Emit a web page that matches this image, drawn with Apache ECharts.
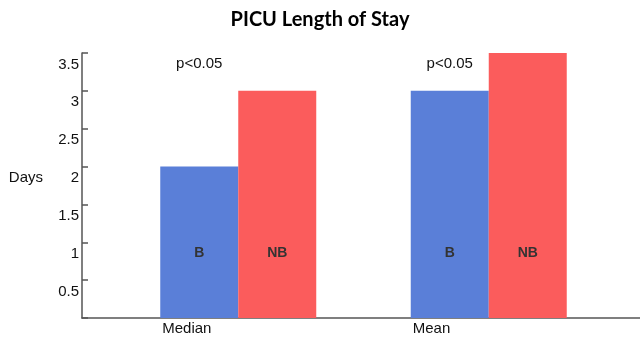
<!DOCTYPE html>
<html><head><meta charset="utf-8">
<script src="https://cdn.jsdelivr.net/npm/echarts@6/dist/echarts.min.js"></script>
<style>html,body{margin:0;padding:0;background:#fff}#c{width:640px;height:338px}</style>
</head><body><div id="c"></div>
<script>
const categories = ['Median', 'Mean'];
const seriesNames = ['B', 'NB'];
const valuesB = [2.0, 3.0];
const valuesNB = [3.0, 3.5];
const pLabels = ['p<0.05', 'p<0.05'];
const pLabelLevel = 3.36;
const yTicks = [0, 0.5, 1, 1.5, 2, 2.5, 3, 3.5];

const chart = echarts.init(document.getElementById('c'));
const axisColor = '#555';
const yMin = yTicks[0], yMax = yTicks[yTicks.length - 1];
const txt = {fontFamily: 'Liberation Sans', fontSize: 15, color: '#111'};
chart.setOption({
  animation: false,
  title: {
    text: 'PICU Length of Stay', left: 'center', top: 5,
    textStyle: {fontFamily: 'Lato', fontWeight: 'bold', fontSize: 20, color: '#000'}
  },
  grid: [
    {left: 82, right: 0, top: 53, bottom: 20},
    {left: 113, width: 501, top: 53, bottom: 20}
  ],
  xAxis: [
    {gridIndex: 0, type: 'category', data: categories, axisLine: {lineStyle: {color: axisColor, width: 1.5}},
     axisTick: {show: false}, axisLabel: {show: false}},
    {gridIndex: 1, type: 'category', data: categories,
     axisLine: {show: false}, axisTick: {show: false},
     axisLabel: {margin: 3, formatter: v => '{a|' + v + '}',
       rich: {a: Object.assign({width: 156, align: 'left', padding: [0, 0, 0, 4]}, txt)}}}
  ],
  yAxis: [
    {gridIndex: 0, type: 'value', min: yMin, max: yMax, interval: 0.5,
     name: 'Days', nameLocation: 'middle', nameRotate: 0, nameGap: 39,
     nameTextStyle: Object.assign({verticalAlign: 'bottom'}, txt),
     axisLine: {show: true, lineStyle: {color: axisColor, width: 1.5}},
     axisTick: {show: true, inside: true, length: 6, lineStyle: {color: axisColor, width: 1.5}},
     splitLine: {show: false},
     axisLabel: Object.assign({margin: 3, verticalAlign: 'top', padding: [4, 0, 0, 0],
       formatter: v => v === 0 ? '' : String(v)}, txt)},
    {gridIndex: 0, type: 'value', min: yMin, max: yMax, interval: 0.5,
     axisLine: {show: false},
     axisTick: {show: true, inside: false, length: 10, lineStyle: {color: axisColor, width: 1.5}},
     axisLabel: {show: false}, splitLine: {show: false}},
    {gridIndex: 1, type: 'value', min: yMin, max: yMax, show: false}
  ],
  series: [
    {name: seriesNames[0], type: 'bar', xAxisIndex: 1, yAxisIndex: 2, data: valuesB,
     barWidth: 78, barGap: '0%', itemStyle: {color: '#5a7fd8'},
     label: {show: true, position: 'insideBottom', distance: 58, formatter: seriesNames[0],
       fontFamily: 'Liberation Sans', fontWeight: 'bold', fontSize: 14, color: '#333'},
     markPoint: {symbol: 'circle', symbolSize: 0,
       data: categories.map((c, i) => ({coord: [c, pLabelLevel], value: pLabels[i]})),
       label: Object.assign({show: true, position: 'inside', formatter: p => p.value}, txt)}},
    {name: seriesNames[1], type: 'bar', xAxisIndex: 1, yAxisIndex: 2, data: valuesNB,
     barWidth: 78, barGap: '0%', itemStyle: {color: '#fb5c5c'},
     label: {show: true, position: 'insideBottom', distance: 58, formatter: seriesNames[1],
       fontFamily: 'Liberation Sans', fontWeight: 'bold', fontSize: 14, color: '#333'}}
  ]
});
</script></body></html>
